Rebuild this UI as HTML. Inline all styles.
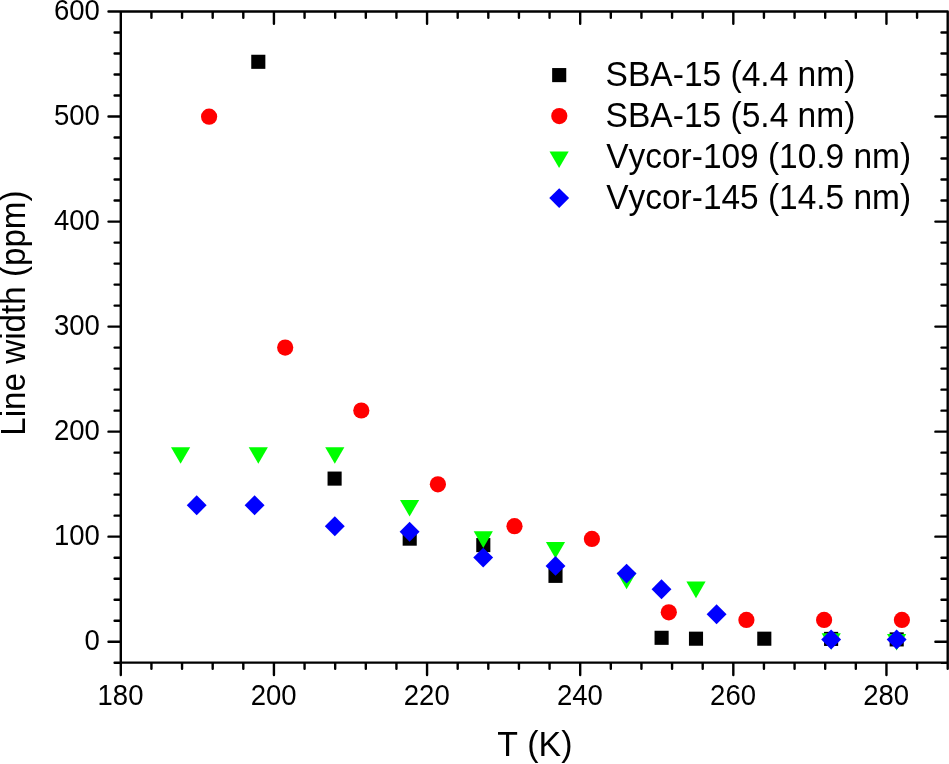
<!DOCTYPE html>
<html lang="en">
<head>
<meta charset="utf-8">
<title>Line width vs T</title>
<style>
html,body{margin:0;padding:0;background:#fff;}
body{width:949px;height:764px;overflow:hidden;}
svg{display:block;will-change:transform;}
text{font-family:"Liberation Sans",Arial,Helvetica,sans-serif;fill:#000;font-kerning:none;}
.tk{font-size:27.5px;}
.lb{font-size:33.55px;}
.ax{stroke:#000;stroke-width:2.4;stroke-linecap:round;stroke-linejoin:round;fill:none;}
</style>
</head>
<body>
<svg width="949" height="764" viewBox="0 0 949 764">
<rect x="0" y="0" width="949" height="764" fill="#fff"/>
<path class="ax" d="M120.8 11.5H947.7V662.65H120.8ZM120.8 11.5v12.3M120.8 662.65v12.3M151.43 11.5v6.2M151.43 662.65v6.2M182.05 11.5v6.2M182.05 662.65v6.2M212.68 11.5v6.2M212.68 662.65v6.2M243.3 11.5v6.2M243.3 662.65v6.2M273.93 11.5v12.3M273.93 662.65v12.3M304.56 11.5v6.2M304.56 662.65v6.2M335.18 11.5v6.2M335.18 662.65v6.2M365.81 11.5v6.2M365.81 662.65v6.2M396.43 11.5v6.2M396.43 662.65v6.2M427.06 11.5v12.3M427.06 662.65v12.3M457.69 11.5v6.2M457.69 662.65v6.2M488.31 11.5v6.2M488.31 662.65v6.2M518.94 11.5v6.2M518.94 662.65v6.2M549.56 11.5v6.2M549.56 662.65v6.2M580.19 11.5v12.3M580.19 662.65v12.3M610.81 11.5v6.2M610.81 662.65v6.2M641.44 11.5v6.2M641.44 662.65v6.2M672.07 11.5v6.2M672.07 662.65v6.2M702.69 11.5v6.2M702.69 662.65v6.2M733.32 11.5v12.3M733.32 662.65v12.3M763.94 11.5v6.2M763.94 662.65v6.2M794.57 11.5v6.2M794.57 662.65v6.2M825.2 11.5v6.2M825.2 662.65v6.2M855.82 11.5v6.2M855.82 662.65v6.2M886.45 11.5v12.3M886.45 662.65v12.3M917.07 11.5v6.2M917.07 662.65v6.2M947.7 11.5v6.2M947.7 662.65v6.2M120.8 662.71h-6.2M947.7 662.71h-6.2M120.8 641.7h-12.3M947.7 641.7h-12.3M120.8 620.69h-6.2M947.7 620.69h-6.2M120.8 599.69h-6.2M947.7 599.69h-6.2M120.8 578.68h-6.2M947.7 578.68h-6.2M120.8 557.68h-6.2M947.7 557.68h-6.2M120.8 536.67h-12.3M947.7 536.67h-12.3M120.8 515.66h-6.2M947.7 515.66h-6.2M120.8 494.66h-6.2M947.7 494.66h-6.2M120.8 473.65h-6.2M947.7 473.65h-6.2M120.8 452.65h-6.2M947.7 452.65h-6.2M120.8 431.64h-12.3M947.7 431.64h-12.3M120.8 410.63h-6.2M947.7 410.63h-6.2M120.8 389.63h-6.2M947.7 389.63h-6.2M120.8 368.62h-6.2M947.7 368.62h-6.2M120.8 347.62h-6.2M947.7 347.62h-6.2M120.8 326.61h-12.3M947.7 326.61h-12.3M120.8 305.6h-6.2M947.7 305.6h-6.2M120.8 284.6h-6.2M947.7 284.6h-6.2M120.8 263.59h-6.2M947.7 263.59h-6.2M120.8 242.59h-6.2M947.7 242.59h-6.2M120.8 221.58h-12.3M947.7 221.58h-12.3M120.8 200.57h-6.2M947.7 200.57h-6.2M120.8 179.57h-6.2M947.7 179.57h-6.2M120.8 158.56h-6.2M947.7 158.56h-6.2M120.8 137.56h-6.2M947.7 137.56h-6.2M120.8 116.55h-12.3M947.7 116.55h-12.3M120.8 95.54h-6.2M947.7 95.54h-6.2M120.8 74.54h-6.2M947.7 74.54h-6.2M120.8 53.53h-6.2M947.7 53.53h-6.2M120.8 32.53h-6.2M947.7 32.53h-6.2M120.8 11.52h-12.3M947.7 11.52h-12.3"/>
<g class="tk" text-anchor="end">
<text transform="translate(99.9 650) scale(1 1.04)">0</text>
<text transform="translate(99.9 544.97) scale(1 1.04)">100</text>
<text transform="translate(99.9 439.94) scale(1 1.04)">200</text>
<text transform="translate(99.9 334.91) scale(1 1.04)">300</text>
<text transform="translate(99.9 229.88) scale(1 1.04)">400</text>
<text transform="translate(99.9 124.85) scale(1 1.04)">500</text>
<text transform="translate(99.9 19.82) scale(1 1.04)">600</text>
</g>
<g class="tk" text-anchor="middle">
<text transform="translate(120.5 705.3) scale(1 1.04)">180</text>
<text transform="translate(273.63 705.3) scale(1 1.04)">200</text>
<text transform="translate(426.76 705.3) scale(1 1.04)">220</text>
<text transform="translate(579.89 705.3) scale(1 1.04)">240</text>
<text transform="translate(733.02 705.3) scale(1 1.04)">260</text>
<text transform="translate(886.15 705.3) scale(1 1.04)">280</text>
</g>
<text text-anchor="middle" font-size="33.9" transform="translate(534.8 756.1) scale(1 1.03)">T (K)</text>
<text text-anchor="middle" font-size="33.2" transform="translate(24.9 313.1) rotate(-90) scale(1 1.03)">Line width (ppm)</text>
<g fill="#000"><rect x="251.25" y="54.75" width="14.1" height="14.1"/><rect x="327.55" y="471.55" width="14.1" height="14.1"/><rect x="402.65" y="531.6" width="14.1" height="14.1"/><rect x="476.25" y="538.05" width="14.1" height="14.1"/><rect x="548.45" y="568.8" width="14.1" height="14.1"/><rect x="654.55" y="630.75" width="14.1" height="14.1"/><rect x="688.95" y="631.65" width="14.1" height="14.1"/><rect x="757.25" y="631.65" width="14.1" height="14.1"/><rect x="824.05" y="631.85" width="14.1" height="14.1"/><rect x="889.65" y="632.35" width="14.1" height="14.1"/><rect x="552.15" y="68.05" width="14.1" height="14.1"/></g>
<g fill="#f00"><circle cx="209.1" cy="116.7" r="8.1"/><circle cx="285.2" cy="347.6" r="8.1"/><circle cx="361.3" cy="410.5" r="8.1"/><circle cx="437.9" cy="484.3" r="8.1"/><circle cx="514.5" cy="526.2" r="8.1"/><circle cx="591.9" cy="538.9" r="8.1"/><circle cx="668.8" cy="612.3" r="8.1"/><circle cx="746.4" cy="619.9" r="8.1"/><circle cx="824.1" cy="619.9" r="8.1"/><circle cx="901.9" cy="619.9" r="8.1"/><circle cx="559.3" cy="116.1" r="8.1"/></g>
<g fill="#0f0"><path d="M171 447.2h19.2l-9.6 16.6z"/><path d="M248.7 447.2h19.2l-9.6 16.6z"/><path d="M325.2 447.2h19.2l-9.6 16.6z"/><path d="M400 499.9h19.2l-9.6 16.6z"/><path d="M473.7 531.3h19.2l-9.6 16.6z"/><path d="M545.9 541.9h19.2l-9.6 16.6z"/><path d="M617 572.7h19.2l-9.6 16.6z"/><path d="M686.4 581.6h19.2l-9.6 16.6z"/><path d="M821.6 633.2h19.2l-9.6 16.6z"/><path d="M887 633.9h19.2l-9.6 16.6z"/><path d="M549.5 151.4h19.2l-9.6 16.6z"/></g>
<g fill="#00f"><path d="M196.7 495.3l9.95 9.95l-9.95 9.95l-9.95 -9.95z"/><path d="M254.6 495.3l9.95 9.95l-9.95 9.95l-9.95 -9.95z"/><path d="M334.8 516.25l9.95 9.95l-9.95 9.95l-9.95 -9.95z"/><path d="M409.6 521.85l9.95 9.95l-9.95 9.95l-9.95 -9.95z"/><path d="M483.2 547.65l9.95 9.95l-9.95 9.95l-9.95 -9.95z"/><path d="M555.5 555.95l9.95 9.95l-9.95 9.95l-9.95 -9.95z"/><path d="M626.6 563.65l9.95 9.95l-9.95 9.95l-9.95 -9.95z"/><path d="M661.5 579.35l9.95 9.95l-9.95 9.95l-9.95 -9.95z"/><path d="M716.6 604.35l9.95 9.95l-9.95 9.95l-9.95 -9.95z"/><path d="M831.15 629.55l9.95 9.95l-9.95 9.95l-9.95 -9.95z"/><path d="M896.65 629.61l9.95 9.95l-9.95 9.95l-9.95 -9.95z"/><path d="M559.2 188.15l9.95 9.95l-9.95 9.95l-9.95 -9.95z"/></g>
<g class="lb">
<text transform="translate(605.6 86) scale(1 1.03)">SBA-15 (4.4 nm)</text>
<text transform="translate(605.6 127) scale(1 1.03)">SBA-15 (5.4 nm)</text>
<text font-size="33.45" transform="translate(606.3 168) scale(1 1.03)">Vycor-109 (10.9 nm)</text>
<text font-size="33.45" transform="translate(606.3 209) scale(1 1.03)">Vycor-145 (14.5 nm)</text>
</g>
</svg>
</body>
</html>
